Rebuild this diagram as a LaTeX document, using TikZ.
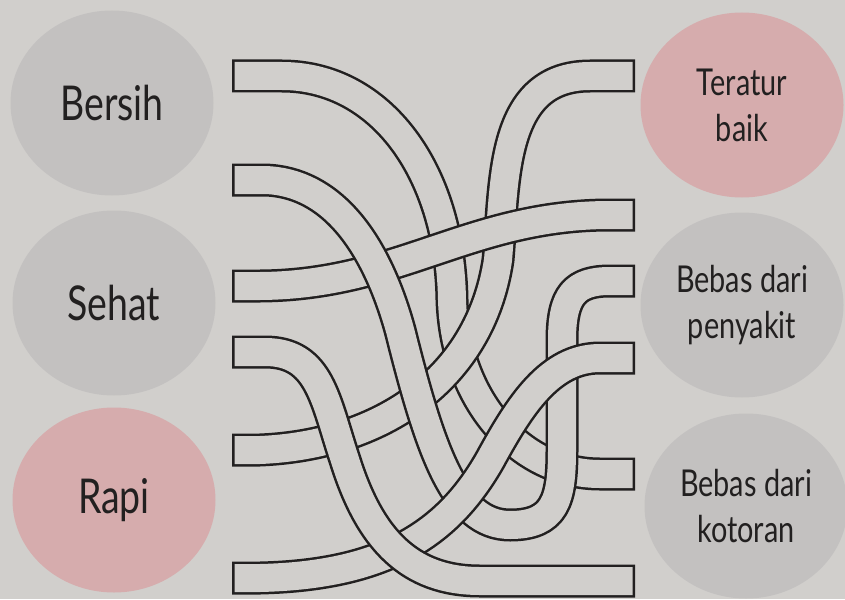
\documentclass[tikz,border=0pt]{standalone}
\usepackage{fontspec}
\newfontfamily\labelfont{Lato}[FakeStretch=0.78]
\usetikzlibrary{shapes.geometric}
\definecolor{paper}{RGB}{209,207,204}
\definecolor{greyblob}{RGB}{195,193,192}
\definecolor{pinkblob}{RGB}{214,172,173}
\definecolor{ink}{RGB}{34,32,32}
% one tube: dark outline first, then the paper-coloured body on top
\newcommand\tube[1]{\draw[tubeedge] #1; \draw[tubebody] #1;}

\begin{document}
\begin{tikzpicture}[x=1pt, y=-1pt, line join=round,
  blob/.style={ellipse, minimum width=203pt, minimum height=185pt,
               inner sep=0pt, text=ink, align=center},
  bigword/.style={font=\labelfont\fontsize{48}{52}\selectfont},
  smallword/.style={font=\labelfont\fontsize{37}{46}\selectfont},
  tubeedge/.style={draw=ink, line width=33pt},
  tubebody/.style={draw=paper, line width=28pt, shorten <=2.5pt, shorten >=2.5pt}]
  % the sheet
  \useasboundingbox (0,0) rectangle (845,599);
  \fill[paper] (0,0) rectangle (845,599);
  % words on the left
  \node[blob, fill=greyblob, bigword] (bersih) at (112,103) {Bersih};
  \node[blob, fill=greyblob, bigword] (sehat) at (114,303) {Sehat};
  \node[blob, fill=pinkblob, bigword] (rapi) at (114,500) {Rapi};
  % words on the right
  \node[blob, fill=pinkblob, smallword] (teratur) at (742,105) {Teratur\\baik};
  \node[blob, fill=greyblob, smallword] (penyakit) at (742,305) {Bebas dari\\penyakit};
  \node[blob, fill=greyblob, smallword] (kotoran) at (746,506) {Bebas dari\\kotoran};
  % tube mouths
  \coordinate (l1) at (232,76);
  \coordinate (l2) at (232,180);
  \coordinate (l3) at (232,286);
  \coordinate (l4) at (232,352);
  \coordinate (l5) at (232,450);
  \coordinate (l6) at (232,578);
  \coordinate (r1) at (635,76);
  \coordinate (r2) at (635,215);
  \coordinate (r3) at (635,281);
  \coordinate (r4) at (635,358);
  \coordinate (r5) at (635,474);
  \coordinate (r6) at (635,581);
  % the tangle, bottom layer first
  \tube{(l1) -- ++(50,0) .. controls (380,76) and (450,170) .. (452,300)
        .. controls (455,400) and (520,474) .. (600,474) -- (r5)}
  \tube{(l5) -- ++(28,0) .. controls (380,445) and (480,380) .. (498,260)
        .. controls (505,180) and (500,76) .. (590,76) -- (r1)}
  \tube{(l3) -- ++(28,0) .. controls (400,285) and (470,215) .. (610,215) -- (r2)}
  \tube{(l2) -- ++(33,0) .. controls (330,182) and (375,240) .. (400,330)
        .. controls (430,450) and (455,525) .. (510,525)
        .. controls (555,525) and (562,500) .. (562,450) -- (562,340)
        .. controls (562,295) and (575,281) .. (610,281) -- (r3)}
  \tube{(l6) -- ++(28,0) .. controls (390,575) and (450,530) .. (490,460)
        .. controls (520,405) and (550,358) .. (600,358) -- (r4)}
  \tube{(l4) -- ++(33,0) .. controls (320,352) and (325,400) .. (345,460)
        .. controls (370,540) and (410,581) .. (480,581) -- (r6)}
\end{tikzpicture}
\end{document}
